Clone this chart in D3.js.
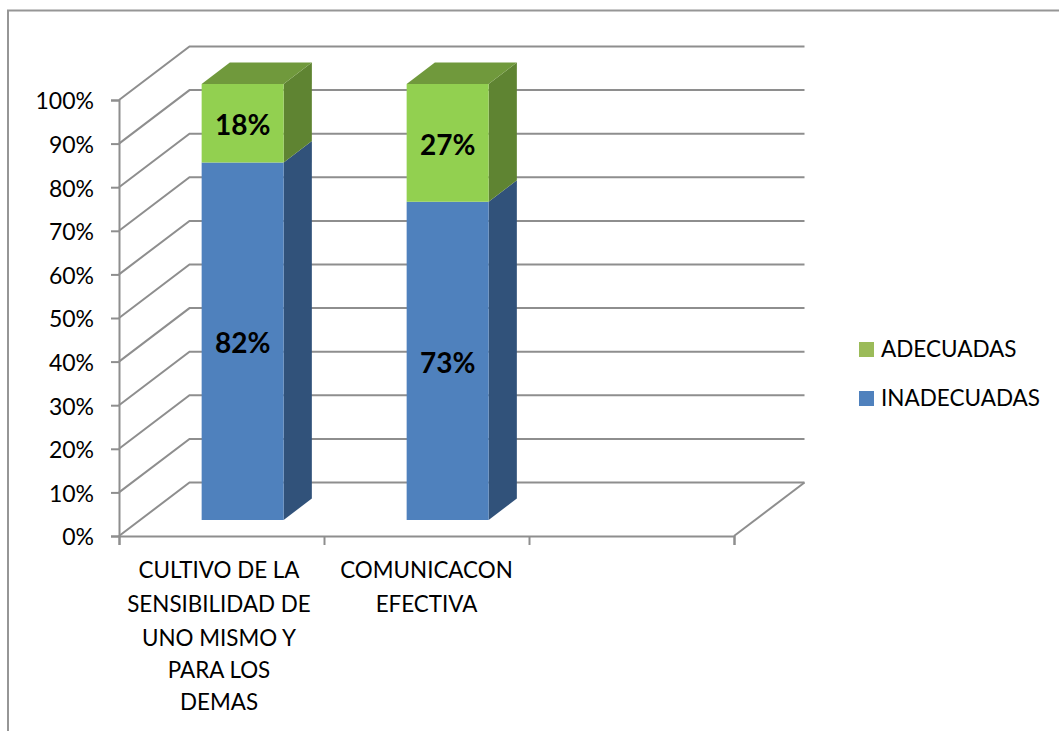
<!DOCTYPE html>
<html>
<head>
<meta charset="utf-8">
<script src="https://cdn.jsdelivr.net/npm/d3@7"></script>
<style>
  html, body { margin: 0; padding: 0; background: #fff; }
  svg { display: block; }
  text { font-family: Lato, "Noto Sans", sans-serif; fill: #000; }
</style>
</head>
<body>
<svg width="1059" height="731"></svg>
<script>
const categories = [
    ["CULTIVO DE LA", "SENSIBILIDAD DE", "UNO MISMO Y", "PARA LOS", "DEMAS"],
    ["COMUNICACON", "EFECTIVA"]
];
const inadecuadas = [82, 73];
const adecuadas = [18, 27];
const yTicks = [0, 10, 20, 30, 40, 50, 60, 70, 80, 90, 100];
const seriesNames = ["INADECUADAS", "ADECUADAS"];
const slotTicks = [0, 1, 2, 3];

const faces = {
    INADECUADAS: { front: "#4f81bd", side: "#31527a", top: "#3f6797", legend: "#4f81bd" },
    ADECUADAS: { front: "#92d050", side: "#5f8432", top: "#70993c", legend: "#9bbb59" }
};
const gridColor = "#8e8e8e";

const svg = d3.select("svg");

// chart frame, only top and left edges show in the picture
svg.append("path")
    .attr("d", d3.line()([[8, 731], [8, 10.5], [1059, 10.5]]))
    .attr("fill", "none")
    .attr("stroke", "#969696")
    .attr("stroke-width", 2);

const x = d3.scaleLinear().domain([0, 3]).range([119, 734]);
const y = d3.scaleLinear().domain([0, 100]).range([536, 100]);
// depth goes from 0 (front of the floor) to 1 (back wall)
const depthX = d3.scaleLinear().domain([0, 1]).range([0, 70.5]);
const depthY = d3.scaleLinear().domain([0, 1]).range([0, -53.5]);

// slot position, percent, depth -> screen point
const project = (s, v, d) => [x(s) + depthX(d), y(v) + depthY(d)];
const line = d3.line();

const grid = svg.append("g").attr("fill", "none").attr("stroke", gridColor).attr("stroke-width", 2);
grid.selectAll(".wall")
    .data(yTicks)
    .enter().append("path")
    .attr("class", "wall")
    .attr("d", d => line([project(0, d, 0), project(0, d, 1), project(3, d, 1)]));
grid.append("path")
    .attr("d", line([project(3, 0, 0), project(3, 0, 1)]));

const yAxis = svg.append("g")
    .attr("transform", `translate(${x(0)},0)`)
    .call(d3.axisLeft(y).tickValues(yTicks).tickSize(8).tickPadding(17).tickFormat(d => d + "%"));
const xAxis = svg.append("g")
    .attr("transform", `translate(0,${y(0)})`)
    .call(d3.axisBottom(x).tickValues(slotTicks).tickSize(9).tickFormat(""));
[yAxis, xAxis].forEach(a => {
    a.selectAll(".domain").attr("stroke", gridColor).attr("stroke-width", 2);
    a.selectAll(".tick line").attr("stroke", gridColor).attr("stroke-width", 2);
});
yAxis.selectAll(".tick text")
    .attr("y", 1.5)
    .style("font-size", "23px")
    .style("font-family", "Lato, sans-serif")
    .attr("fill", "#000");

const rows = categories.map((c, i) => ({ slot: i, INADECUADAS: inadecuadas[i], ADECUADAS: adecuadas[i] }));
const stacked = d3.stack().keys(seriesNames)(rows);

const barGap = 0.3, barWidth = 0.4; // fractions of one slot and of the depth
const barsG = svg.append("g");
stacked.forEach(layer => {
    const colors = faces[layer.key];
    const bar = barsG.selectAll(".bar-" + layer.key)
        .data(layer)
        .enter().append("g")
        .attr("class", "bar-" + layer.key);
    const s0 = d => d.data.slot + barGap;
    const s1 = d => d.data.slot + barGap + barWidth;
    bar.append("path")
        .attr("fill", colors.side)
        .attr("d", d => line([
            project(s1(d), d[0], barGap), project(s1(d), d[0], barGap + barWidth),
            project(s1(d), d[1], barGap + barWidth), project(s1(d), d[1], barGap)
        ]) + "Z");
    if (layer.key === "ADECUADAS") {
        bar.append("path")
            .attr("fill", colors.top)
            .attr("d", d => line([
                project(s0(d), d[1], barGap), project(s1(d), d[1], barGap),
                project(s1(d), d[1], barGap + barWidth), project(s0(d), d[1], barGap + barWidth)
            ]) + "Z");
    }
    bar.append("path")
        .attr("fill", colors.front)
        .attr("d", d => line([
            project(s0(d), d[0], barGap), project(s1(d), d[0], barGap),
            project(s1(d), d[1], barGap), project(s0(d), d[1], barGap)
        ]) + "Z");
    bar.append("text")
        .attr("x", d => project(d.data.slot + 0.5, 0, barGap)[0])
        .attr("y", d => project(0, (d[0] + d[1]) / 2, barGap)[1] + 2)
        .attr("dy", "0.35em")
        .attr("text-anchor", "middle")
        .attr("font-size", 28)
        .attr("font-weight", "bold")
        .text(d => (d[1] - d[0]) + "%");
});

// category labels
const labelLines = [570, 604, 638, 670, 702];
const labelShift = [-2.5, 0];
const catG = svg.selectAll(".cat")
    .data(categories)
    .enter().append("text")
    .attr("class", "cat")
    .attr("text-anchor", "middle")
    .attr("font-size", 22.4);
catG.selectAll("tspan")
    .data((d, i) => d.map(t => ({ t, i })))
    .enter().append("tspan")
    .attr("x", d => x(d.i + 0.5) + labelShift[d.i])
    .attr("y", (d, j) => labelLines[j])
    .attr("dy", "0.35em")
    .text(d => d.t);

// legend
const legend = svg.selectAll(".legend")
    .data(["ADECUADAS", "INADECUADAS"])
    .enter().append("g")
    .attr("class", "legend")
    .attr("transform", (d, i) => `translate(859,${342 + i * 49})`);
legend.append("rect")
    .attr("width", 15)
    .attr("height", 15)
    .attr("fill", d => faces[d].legend);
legend.append("text")
    .attr("x", 22)
    .attr("y", 7.5)
    .attr("dy", "0.35em")
    .attr("font-size", 22.5)
    .text(d => d);
</script>
</body>
</html>
